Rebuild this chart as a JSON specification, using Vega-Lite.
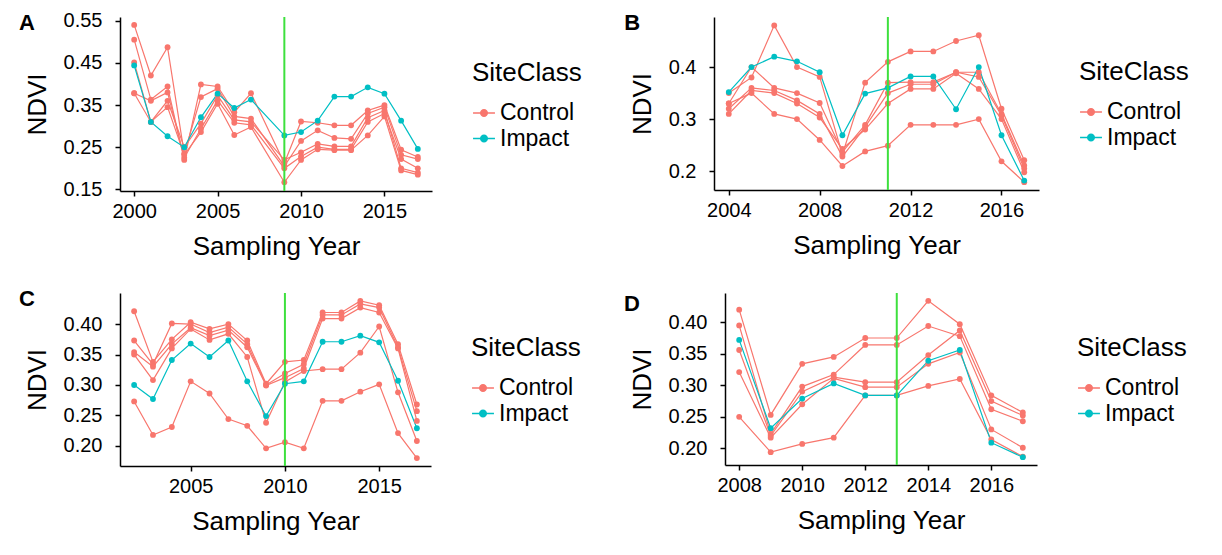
{
  "$schema": "https://vega.github.io/schema/vega-lite/v6.json",
  "background": "white",
  "padding": {"left": 19, "top": 10, "right": 5, "bottom": 5},
  "config": {
    "font": "Liberation Sans",
    "view": {"stroke": null},
    "axis": {"grid": false, "domainColor": "black", "tickColor": "black", "labelColor": "black", "titleColor": "black", "labelFontSize": 20, "titleFontSize": 26, "titleFontWeight": "normal", "labelFont": "Liberation Sans", "titleFont": "Liberation Sans", "tickSize": 5, "domainWidth": 1.5, "tickWidth": 1.5},
    "axisX": {"labelPadding": 5, "titlePadding": 12},
    "axisY": {"labelPadding": 13, "titlePadding": 13},
    "legend": {"titleFontSize": 26, "labelFontSize": 23, "titleFontWeight": "normal", "titleColor": "black", "labelColor": "black", "titleFont": "Liberation Sans", "labelFont": "Liberation Sans", "symbolType": "M-1,0H1M0.3,0A0.3,0.3 0 1,1 -0.3,0A0.3,0.3 0 1,1 0.3,0Z", "symbolSize": 480, "symbolStrokeWidth": 1.5, "titlePadding": 15, "rowPadding": 1.5},
    "title": {"fontSize": 22, "fontWeight": "bold", "anchor": "start", "frame": "bounds", "dx": -5, "baseline": "top", "color": "black", "font": "Liberation Sans"}
  },
  "datasets": {
    "A": [
      {"id":"A1","SiteClass":"Control","Year":2000,"NDVI":0.54},{"id":"A1","SiteClass":"Control","Year":2001,"NDVI":0.42},{"id":"A1","SiteClass":"Control","Year":2002,"NDVI":0.487},{"id":"A1","SiteClass":"Control","Year":2003,"NDVI":0.235},{"id":"A1","SiteClass":"Control","Year":2004,"NDVI":0.369},{"id":"A1","SiteClass":"Control","Year":2005,"NDVI":0.389},{"id":"A1","SiteClass":"Control","Year":2006,"NDVI":0.323},{"id":"A1","SiteClass":"Control","Year":2007,"NDVI":0.318},{"id":"A1","SiteClass":"Control","Year":2009,"NDVI":0.205},{"id":"A1","SiteClass":"Control","Year":2010,"NDVI":0.265},{"id":"A1","SiteClass":"Control","Year":2011,"NDVI":0.29},{"id":"A1","SiteClass":"Control","Year":2012,"NDVI":0.272},{"id":"A1","SiteClass":"Control","Year":2013,"NDVI":0.27},{"id":"A1","SiteClass":"Control","Year":2014,"NDVI":0.33},{"id":"A1","SiteClass":"Control","Year":2015,"NDVI":0.345},{"id":"A1","SiteClass":"Control","Year":2016,"NDVI":0.232},{"id":"A1","SiteClass":"Control","Year":2017,"NDVI":0.222},
      {"id":"A2","SiteClass":"Control","Year":2000,"NDVI":0.505},{"id":"A2","SiteClass":"Control","Year":2001,"NDVI":0.363},{"id":"A2","SiteClass":"Control","Year":2002,"NDVI":0.394},{"id":"A2","SiteClass":"Control","Year":2003,"NDVI":0.22},{"id":"A2","SiteClass":"Control","Year":2004,"NDVI":0.399},{"id":"A2","SiteClass":"Control","Year":2005,"NDVI":0.394},{"id":"A2","SiteClass":"Control","Year":2006,"NDVI":0.333},{"id":"A2","SiteClass":"Control","Year":2007,"NDVI":0.378},{"id":"A2","SiteClass":"Control","Year":2009,"NDVI":0.212},{"id":"A2","SiteClass":"Control","Year":2010,"NDVI":0.311},{"id":"A2","SiteClass":"Control","Year":2011,"NDVI":0.308},{"id":"A2","SiteClass":"Control","Year":2012,"NDVI":0.302},{"id":"A2","SiteClass":"Control","Year":2013,"NDVI":0.302},{"id":"A2","SiteClass":"Control","Year":2014,"NDVI":0.337},{"id":"A2","SiteClass":"Control","Year":2015,"NDVI":0.35},{"id":"A2","SiteClass":"Control","Year":2016,"NDVI":0.244},{"id":"A2","SiteClass":"Control","Year":2017,"NDVI":0.227},
      {"id":"A3","SiteClass":"Control","Year":2000,"NDVI":0.451},{"id":"A3","SiteClass":"Control","Year":2001,"NDVI":0.31},{"id":"A3","SiteClass":"Control","Year":2002,"NDVI":0.36},{"id":"A3","SiteClass":"Control","Year":2003,"NDVI":0.25},{"id":"A3","SiteClass":"Control","Year":2004,"NDVI":0.306},{"id":"A3","SiteClass":"Control","Year":2005,"NDVI":0.373},{"id":"A3","SiteClass":"Control","Year":2006,"NDVI":0.315},{"id":"A3","SiteClass":"Control","Year":2007,"NDVI":0.31},{"id":"A3","SiteClass":"Control","Year":2009,"NDVI":0.22},{"id":"A3","SiteClass":"Control","Year":2010,"NDVI":0.238},{"id":"A3","SiteClass":"Control","Year":2011,"NDVI":0.258},{"id":"A3","SiteClass":"Control","Year":2012,"NDVI":0.252},{"id":"A3","SiteClass":"Control","Year":2013,"NDVI":0.252},{"id":"A3","SiteClass":"Control","Year":2014,"NDVI":0.32},{"id":"A3","SiteClass":"Control","Year":2015,"NDVI":0.337},{"id":"A3","SiteClass":"Control","Year":2016,"NDVI":0.2},{"id":"A3","SiteClass":"Control","Year":2017,"NDVI":0.19},
      {"id":"A4","SiteClass":"Control","Year":2000,"NDVI":0.378},{"id":"A4","SiteClass":"Control","Year":2001,"NDVI":0.36},{"id":"A4","SiteClass":"Control","Year":2002,"NDVI":0.38},{"id":"A4","SiteClass":"Control","Year":2003,"NDVI":0.225},{"id":"A4","SiteClass":"Control","Year":2004,"NDVI":0.294},{"id":"A4","SiteClass":"Control","Year":2005,"NDVI":0.361},{"id":"A4","SiteClass":"Control","Year":2006,"NDVI":0.308},{"id":"A4","SiteClass":"Control","Year":2007,"NDVI":0.303},{"id":"A4","SiteClass":"Control","Year":2009,"NDVI":0.2},{"id":"A4","SiteClass":"Control","Year":2010,"NDVI":0.228},{"id":"A4","SiteClass":"Control","Year":2011,"NDVI":0.25},{"id":"A4","SiteClass":"Control","Year":2012,"NDVI":0.245},{"id":"A4","SiteClass":"Control","Year":2013,"NDVI":0.245},{"id":"A4","SiteClass":"Control","Year":2014,"NDVI":0.31},{"id":"A4","SiteClass":"Control","Year":2015,"NDVI":0.33},{"id":"A4","SiteClass":"Control","Year":2016,"NDVI":0.222},{"id":"A4","SiteClass":"Control","Year":2017,"NDVI":0.2},
      {"id":"A5","SiteClass":"Control","Year":2000,"NDVI":0.378},{"id":"A5","SiteClass":"Control","Year":2001,"NDVI":0.31},{"id":"A5","SiteClass":"Control","Year":2002,"NDVI":0.345},{"id":"A5","SiteClass":"Control","Year":2003,"NDVI":0.232},{"id":"A5","SiteClass":"Control","Year":2004,"NDVI":0.286},{"id":"A5","SiteClass":"Control","Year":2005,"NDVI":0.353},{"id":"A5","SiteClass":"Control","Year":2006,"NDVI":0.279},{"id":"A5","SiteClass":"Control","Year":2007,"NDVI":0.298},{"id":"A5","SiteClass":"Control","Year":2009,"NDVI":0.167},{"id":"A5","SiteClass":"Control","Year":2010,"NDVI":0.22},{"id":"A5","SiteClass":"Control","Year":2011,"NDVI":0.245},{"id":"A5","SiteClass":"Control","Year":2012,"NDVI":0.243},{"id":"A5","SiteClass":"Control","Year":2013,"NDVI":0.243},{"id":"A5","SiteClass":"Control","Year":2014,"NDVI":0.278},{"id":"A5","SiteClass":"Control","Year":2015,"NDVI":0.323},{"id":"A5","SiteClass":"Control","Year":2016,"NDVI":0.195},{"id":"A5","SiteClass":"Control","Year":2017,"NDVI":0.185},
      {"id":"AI","SiteClass":"Impact","Year":2000,"NDVI":0.444},{"id":"AI","SiteClass":"Impact","Year":2001,"NDVI":0.31},{"id":"AI","SiteClass":"Impact","Year":2002,"NDVI":0.276},{"id":"AI","SiteClass":"Impact","Year":2003,"NDVI":0.25},{"id":"AI","SiteClass":"Impact","Year":2004,"NDVI":0.321},{"id":"AI","SiteClass":"Impact","Year":2005,"NDVI":0.377},{"id":"AI","SiteClass":"Impact","Year":2006,"NDVI":0.343},{"id":"AI","SiteClass":"Impact","Year":2007,"NDVI":0.363},{"id":"AI","SiteClass":"Impact","Year":2009,"NDVI":0.278},{"id":"AI","SiteClass":"Impact","Year":2010,"NDVI":0.286},{"id":"AI","SiteClass":"Impact","Year":2011,"NDVI":0.313},{"id":"AI","SiteClass":"Impact","Year":2012,"NDVI":0.37},{"id":"AI","SiteClass":"Impact","Year":2013,"NDVI":0.37},{"id":"AI","SiteClass":"Impact","Year":2014,"NDVI":0.392},{"id":"AI","SiteClass":"Impact","Year":2015,"NDVI":0.377},{"id":"AI","SiteClass":"Impact","Year":2016,"NDVI":0.313},{"id":"AI","SiteClass":"Impact","Year":2017,"NDVI":0.246}
    ],
    "B": [
      {"id":"B1","SiteClass":"Control","Year":2004,"NDVI":0.35},{"id":"B1","SiteClass":"Control","Year":2005,"NDVI":0.38},{"id":"B1","SiteClass":"Control","Year":2006,"NDVI":0.48},{"id":"B1","SiteClass":"Control","Year":2007,"NDVI":0.4},{"id":"B1","SiteClass":"Control","Year":2008,"NDVI":0.381},{"id":"B1","SiteClass":"Control","Year":2009,"NDVI":0.232},{"id":"B1","SiteClass":"Control","Year":2010,"NDVI":0.37},{"id":"B1","SiteClass":"Control","Year":2011,"NDVI":0.41},{"id":"B1","SiteClass":"Control","Year":2012,"NDVI":0.43},{"id":"B1","SiteClass":"Control","Year":2013,"NDVI":0.43},{"id":"B1","SiteClass":"Control","Year":2014,"NDVI":0.45},{"id":"B1","SiteClass":"Control","Year":2015,"NDVI":0.461},{"id":"B1","SiteClass":"Control","Year":2016,"NDVI":0.32},{"id":"B1","SiteClass":"Control","Year":2017,"NDVI":0.221},
      {"id":"B2","SiteClass":"Control","Year":2004,"NDVI":0.33},{"id":"B2","SiteClass":"Control","Year":2005,"NDVI":0.4},{"id":"B2","SiteClass":"Control","Year":2006,"NDVI":0.36},{"id":"B2","SiteClass":"Control","Year":2007,"NDVI":0.35},{"id":"B2","SiteClass":"Control","Year":2008,"NDVI":0.331},{"id":"B2","SiteClass":"Control","Year":2009,"NDVI":0.237},{"id":"B2","SiteClass":"Control","Year":2010,"NDVI":0.289},{"id":"B2","SiteClass":"Control","Year":2011,"NDVI":0.37},{"id":"B2","SiteClass":"Control","Year":2012,"NDVI":0.371},{"id":"B2","SiteClass":"Control","Year":2013,"NDVI":0.371},{"id":"B2","SiteClass":"Control","Year":2014,"NDVI":0.39},{"id":"B2","SiteClass":"Control","Year":2015,"NDVI":0.39},{"id":"B2","SiteClass":"Control","Year":2016,"NDVI":0.31},{"id":"B2","SiteClass":"Control","Year":2017,"NDVI":0.211},
      {"id":"B3","SiteClass":"Control","Year":2004,"NDVI":0.32},{"id":"B3","SiteClass":"Control","Year":2005,"NDVI":0.36},{"id":"B3","SiteClass":"Control","Year":2006,"NDVI":0.355},{"id":"B3","SiteClass":"Control","Year":2007,"NDVI":0.336},{"id":"B3","SiteClass":"Control","Year":2008,"NDVI":0.31},{"id":"B3","SiteClass":"Control","Year":2009,"NDVI":0.228},{"id":"B3","SiteClass":"Control","Year":2010,"NDVI":0.285},{"id":"B3","SiteClass":"Control","Year":2011,"NDVI":0.35},{"id":"B3","SiteClass":"Control","Year":2012,"NDVI":0.367},{"id":"B3","SiteClass":"Control","Year":2013,"NDVI":0.367},{"id":"B3","SiteClass":"Control","Year":2014,"NDVI":0.39},{"id":"B3","SiteClass":"Control","Year":2015,"NDVI":0.381},{"id":"B3","SiteClass":"Control","Year":2016,"NDVI":0.307},{"id":"B3","SiteClass":"Control","Year":2017,"NDVI":0.205},
      {"id":"B4","SiteClass":"Control","Year":2004,"NDVI":0.31},{"id":"B4","SiteClass":"Control","Year":2005,"NDVI":0.355},{"id":"B4","SiteClass":"Control","Year":2006,"NDVI":0.35},{"id":"B4","SiteClass":"Control","Year":2007,"NDVI":0.33},{"id":"B4","SiteClass":"Control","Year":2008,"NDVI":0.303},{"id":"B4","SiteClass":"Control","Year":2009,"NDVI":0.243},{"id":"B4","SiteClass":"Control","Year":2010,"NDVI":0.28},{"id":"B4","SiteClass":"Control","Year":2011,"NDVI":0.33},{"id":"B4","SiteClass":"Control","Year":2012,"NDVI":0.358},{"id":"B4","SiteClass":"Control","Year":2013,"NDVI":0.358},{"id":"B4","SiteClass":"Control","Year":2014,"NDVI":0.388},{"id":"B4","SiteClass":"Control","Year":2015,"NDVI":0.358},{"id":"B4","SiteClass":"Control","Year":2016,"NDVI":0.3},{"id":"B4","SiteClass":"Control","Year":2017,"NDVI":0.198},
      {"id":"B5","SiteClass":"Control","Year":2004,"NDVI":0.33},{"id":"B5","SiteClass":"Control","Year":2005,"NDVI":0.35},{"id":"B5","SiteClass":"Control","Year":2006,"NDVI":0.31},{"id":"B5","SiteClass":"Control","Year":2007,"NDVI":0.3},{"id":"B5","SiteClass":"Control","Year":2008,"NDVI":0.26},{"id":"B5","SiteClass":"Control","Year":2009,"NDVI":0.21},{"id":"B5","SiteClass":"Control","Year":2010,"NDVI":0.238},{"id":"B5","SiteClass":"Control","Year":2011,"NDVI":0.249},{"id":"B5","SiteClass":"Control","Year":2012,"NDVI":0.289},{"id":"B5","SiteClass":"Control","Year":2013,"NDVI":0.289},{"id":"B5","SiteClass":"Control","Year":2014,"NDVI":0.289},{"id":"B5","SiteClass":"Control","Year":2015,"NDVI":0.3},{"id":"B5","SiteClass":"Control","Year":2016,"NDVI":0.219},{"id":"B5","SiteClass":"Control","Year":2017,"NDVI":0.179},
      {"id":"BI","SiteClass":"Impact","Year":2004,"NDVI":0.352},{"id":"BI","SiteClass":"Impact","Year":2005,"NDVI":0.4},{"id":"BI","SiteClass":"Impact","Year":2006,"NDVI":0.42},{"id":"BI","SiteClass":"Impact","Year":2007,"NDVI":0.411},{"id":"BI","SiteClass":"Impact","Year":2008,"NDVI":0.39},{"id":"BI","SiteClass":"Impact","Year":2009,"NDVI":0.269},{"id":"BI","SiteClass":"Impact","Year":2010,"NDVI":0.349},{"id":"BI","SiteClass":"Impact","Year":2011,"NDVI":0.36},{"id":"BI","SiteClass":"Impact","Year":2012,"NDVI":0.382},{"id":"BI","SiteClass":"Impact","Year":2013,"NDVI":0.382},{"id":"BI","SiteClass":"Impact","Year":2014,"NDVI":0.319},{"id":"BI","SiteClass":"Impact","Year":2015,"NDVI":0.4},{"id":"BI","SiteClass":"Impact","Year":2016,"NDVI":0.269},{"id":"BI","SiteClass":"Impact","Year":2017,"NDVI":0.182}
    ],
    "C": [
      {"id":"C1","SiteClass":"Control","Year":2002,"NDVI":0.421},{"id":"C1","SiteClass":"Control","Year":2003,"NDVI":0.338},{"id":"C1","SiteClass":"Control","Year":2004,"NDVI":0.375},{"id":"C1","SiteClass":"Control","Year":2005,"NDVI":0.403},{"id":"C1","SiteClass":"Control","Year":2006,"NDVI":0.392},{"id":"C1","SiteClass":"Control","Year":2007,"NDVI":0.4},{"id":"C1","SiteClass":"Control","Year":2008,"NDVI":0.373},{"id":"C1","SiteClass":"Control","Year":2009,"NDVI":0.302},{"id":"C1","SiteClass":"Control","Year":2010,"NDVI":0.338},{"id":"C1","SiteClass":"Control","Year":2011,"NDVI":0.341},{"id":"C1","SiteClass":"Control","Year":2012,"NDVI":0.419},{"id":"C1","SiteClass":"Control","Year":2013,"NDVI":0.419},{"id":"C1","SiteClass":"Control","Year":2014,"NDVI":0.438},{"id":"C1","SiteClass":"Control","Year":2015,"NDVI":0.431},{"id":"C1","SiteClass":"Control","Year":2016,"NDVI":0.367},{"id":"C1","SiteClass":"Control","Year":2017,"NDVI":0.268},
      {"id":"C2","SiteClass":"Control","Year":2002,"NDVI":0.373},{"id":"C2","SiteClass":"Control","Year":2003,"NDVI":0.334},{"id":"C2","SiteClass":"Control","Year":2004,"NDVI":0.401},{"id":"C2","SiteClass":"Control","Year":2005,"NDVI":0.4},{"id":"C2","SiteClass":"Control","Year":2006,"NDVI":0.386},{"id":"C2","SiteClass":"Control","Year":2007,"NDVI":0.395},{"id":"C2","SiteClass":"Control","Year":2008,"NDVI":0.367},{"id":"C2","SiteClass":"Control","Year":2009,"NDVI":0.3},{"id":"C2","SiteClass":"Control","Year":2010,"NDVI":0.319},{"id":"C2","SiteClass":"Control","Year":2011,"NDVI":0.334},{"id":"C2","SiteClass":"Control","Year":2012,"NDVI":0.415},{"id":"C2","SiteClass":"Control","Year":2013,"NDVI":0.415},{"id":"C2","SiteClass":"Control","Year":2014,"NDVI":0.433},{"id":"C2","SiteClass":"Control","Year":2015,"NDVI":0.427},{"id":"C2","SiteClass":"Control","Year":2016,"NDVI":0.362},{"id":"C2","SiteClass":"Control","Year":2017,"NDVI":0.257},
      {"id":"C3","SiteClass":"Control","Year":2002,"NDVI":0.354},{"id":"C3","SiteClass":"Control","Year":2003,"NDVI":0.33},{"id":"C3","SiteClass":"Control","Year":2004,"NDVI":0.367},{"id":"C3","SiteClass":"Control","Year":2005,"NDVI":0.394},{"id":"C3","SiteClass":"Control","Year":2006,"NDVI":0.381},{"id":"C3","SiteClass":"Control","Year":2007,"NDVI":0.39},{"id":"C3","SiteClass":"Control","Year":2008,"NDVI":0.362},{"id":"C3","SiteClass":"Control","Year":2009,"NDVI":0.299},{"id":"C3","SiteClass":"Control","Year":2010,"NDVI":0.312},{"id":"C3","SiteClass":"Control","Year":2011,"NDVI":0.327},{"id":"C3","SiteClass":"Control","Year":2012,"NDVI":0.409},{"id":"C3","SiteClass":"Control","Year":2013,"NDVI":0.409},{"id":"C3","SiteClass":"Control","Year":2014,"NDVI":0.427},{"id":"C3","SiteClass":"Control","Year":2015,"NDVI":0.419},{"id":"C3","SiteClass":"Control","Year":2016,"NDVI":0.36},{"id":"C3","SiteClass":"Control","Year":2017,"NDVI":0.241},
      {"id":"C4","SiteClass":"Control","Year":2002,"NDVI":0.35},{"id":"C4","SiteClass":"Control","Year":2003,"NDVI":0.308},{"id":"C4","SiteClass":"Control","Year":2004,"NDVI":0.36},{"id":"C4","SiteClass":"Control","Year":2005,"NDVI":0.392},{"id":"C4","SiteClass":"Control","Year":2006,"NDVI":0.374},{"id":"C4","SiteClass":"Control","Year":2007,"NDVI":0.384},{"id":"C4","SiteClass":"Control","Year":2008,"NDVI":0.346},{"id":"C4","SiteClass":"Control","Year":2009,"NDVI":0.238},{"id":"C4","SiteClass":"Control","Year":2010,"NDVI":0.305},{"id":"C4","SiteClass":"Control","Year":2011,"NDVI":0.323},{"id":"C4","SiteClass":"Control","Year":2012,"NDVI":0.326},{"id":"C4","SiteClass":"Control","Year":2013,"NDVI":0.326},{"id":"C4","SiteClass":"Control","Year":2014,"NDVI":0.353},{"id":"C4","SiteClass":"Control","Year":2015,"NDVI":0.396},{"id":"C4","SiteClass":"Control","Year":2016,"NDVI":0.288},{"id":"C4","SiteClass":"Control","Year":2017,"NDVI":0.208},
      {"id":"C5","SiteClass":"Control","Year":2002,"NDVI":0.273},{"id":"C5","SiteClass":"Control","Year":2003,"NDVI":0.218},{"id":"C5","SiteClass":"Control","Year":2004,"NDVI":0.231},{"id":"C5","SiteClass":"Control","Year":2005,"NDVI":0.306},{"id":"C5","SiteClass":"Control","Year":2006,"NDVI":0.286},{"id":"C5","SiteClass":"Control","Year":2007,"NDVI":0.244},{"id":"C5","SiteClass":"Control","Year":2008,"NDVI":0.233},{"id":"C5","SiteClass":"Control","Year":2009,"NDVI":0.196},{"id":"C5","SiteClass":"Control","Year":2010,"NDVI":0.206},{"id":"C5","SiteClass":"Control","Year":2011,"NDVI":0.196},{"id":"C5","SiteClass":"Control","Year":2012,"NDVI":0.274},{"id":"C5","SiteClass":"Control","Year":2013,"NDVI":0.274},{"id":"C5","SiteClass":"Control","Year":2014,"NDVI":0.289},{"id":"C5","SiteClass":"Control","Year":2015,"NDVI":0.301},{"id":"C5","SiteClass":"Control","Year":2016,"NDVI":0.221},{"id":"C5","SiteClass":"Control","Year":2017,"NDVI":0.18},
      {"id":"CI","SiteClass":"Impact","Year":2002,"NDVI":0.3},{"id":"CI","SiteClass":"Impact","Year":2003,"NDVI":0.277},{"id":"CI","SiteClass":"Impact","Year":2004,"NDVI":0.341},{"id":"CI","SiteClass":"Impact","Year":2005,"NDVI":0.368},{"id":"CI","SiteClass":"Impact","Year":2006,"NDVI":0.346},{"id":"CI","SiteClass":"Impact","Year":2007,"NDVI":0.373},{"id":"CI","SiteClass":"Impact","Year":2008,"NDVI":0.306},{"id":"CI","SiteClass":"Impact","Year":2009,"NDVI":0.249},{"id":"CI","SiteClass":"Impact","Year":2010,"NDVI":0.302},{"id":"CI","SiteClass":"Impact","Year":2011,"NDVI":0.306},{"id":"CI","SiteClass":"Impact","Year":2012,"NDVI":0.371},{"id":"CI","SiteClass":"Impact","Year":2013,"NDVI":0.371},{"id":"CI","SiteClass":"Impact","Year":2014,"NDVI":0.381},{"id":"CI","SiteClass":"Impact","Year":2015,"NDVI":0.37},{"id":"CI","SiteClass":"Impact","Year":2016,"NDVI":0.307},{"id":"CI","SiteClass":"Impact","Year":2017,"NDVI":0.229}
    ],
    "D": [
      {"id":"D1","SiteClass":"Control","Year":2008,"NDVI":0.42},{"id":"D1","SiteClass":"Control","Year":2009,"NDVI":0.253},{"id":"D1","SiteClass":"Control","Year":2010,"NDVI":0.334},{"id":"D1","SiteClass":"Control","Year":2011,"NDVI":0.345},{"id":"D1","SiteClass":"Control","Year":2012,"NDVI":0.375},{"id":"D1","SiteClass":"Control","Year":2013,"NDVI":0.375},{"id":"D1","SiteClass":"Control","Year":2014,"NDVI":0.434},{"id":"D1","SiteClass":"Control","Year":2015,"NDVI":0.397},{"id":"D1","SiteClass":"Control","Year":2016,"NDVI":0.284},{"id":"D1","SiteClass":"Control","Year":2017,"NDVI":0.257},
      {"id":"D2","SiteClass":"Control","Year":2008,"NDVI":0.395},{"id":"D2","SiteClass":"Control","Year":2009,"NDVI":0.223},{"id":"D2","SiteClass":"Control","Year":2010,"NDVI":0.298},{"id":"D2","SiteClass":"Control","Year":2011,"NDVI":0.317},{"id":"D2","SiteClass":"Control","Year":2012,"NDVI":0.364},{"id":"D2","SiteClass":"Control","Year":2013,"NDVI":0.364},{"id":"D2","SiteClass":"Control","Year":2014,"NDVI":0.394},{"id":"D2","SiteClass":"Control","Year":2015,"NDVI":0.378},{"id":"D2","SiteClass":"Control","Year":2016,"NDVI":0.262},{"id":"D2","SiteClass":"Control","Year":2017,"NDVI":0.243},
      {"id":"D3","SiteClass":"Control","Year":2008,"NDVI":0.356},{"id":"D3","SiteClass":"Control","Year":2009,"NDVI":0.22},{"id":"D3","SiteClass":"Control","Year":2010,"NDVI":0.29},{"id":"D3","SiteClass":"Control","Year":2011,"NDVI":0.313},{"id":"D3","SiteClass":"Control","Year":2012,"NDVI":0.305},{"id":"D3","SiteClass":"Control","Year":2013,"NDVI":0.305},{"id":"D3","SiteClass":"Control","Year":2014,"NDVI":0.348},{"id":"D3","SiteClass":"Control","Year":2015,"NDVI":0.387},{"id":"D3","SiteClass":"Control","Year":2016,"NDVI":0.275},{"id":"D3","SiteClass":"Control","Year":2017,"NDVI":0.252},
      {"id":"D4","SiteClass":"Control","Year":2008,"NDVI":0.321},{"id":"D4","SiteClass":"Control","Year":2009,"NDVI":0.217},{"id":"D4","SiteClass":"Control","Year":2010,"NDVI":0.27},{"id":"D4","SiteClass":"Control","Year":2011,"NDVI":0.311},{"id":"D4","SiteClass":"Control","Year":2012,"NDVI":0.297},{"id":"D4","SiteClass":"Control","Year":2013,"NDVI":0.297},{"id":"D4","SiteClass":"Control","Year":2014,"NDVI":0.334},{"id":"D4","SiteClass":"Control","Year":2015,"NDVI":0.352},{"id":"D4","SiteClass":"Control","Year":2016,"NDVI":0.23},{"id":"D4","SiteClass":"Control","Year":2017,"NDVI":0.201},
      {"id":"D5","SiteClass":"Control","Year":2008,"NDVI":0.25},{"id":"D5","SiteClass":"Control","Year":2009,"NDVI":0.194},{"id":"D5","SiteClass":"Control","Year":2010,"NDVI":0.207},{"id":"D5","SiteClass":"Control","Year":2011,"NDVI":0.217},{"id":"D5","SiteClass":"Control","Year":2012,"NDVI":0.284},{"id":"D5","SiteClass":"Control","Year":2013,"NDVI":0.284},{"id":"D5","SiteClass":"Control","Year":2014,"NDVI":0.299},{"id":"D5","SiteClass":"Control","Year":2015,"NDVI":0.31},{"id":"D5","SiteClass":"Control","Year":2016,"NDVI":0.214},{"id":"D5","SiteClass":"Control","Year":2017,"NDVI":0.187},
      {"id":"DI","SiteClass":"Impact","Year":2008,"NDVI":0.372},{"id":"DI","SiteClass":"Impact","Year":2009,"NDVI":0.232},{"id":"DI","SiteClass":"Impact","Year":2010,"NDVI":0.279},{"id":"DI","SiteClass":"Impact","Year":2011,"NDVI":0.303},{"id":"DI","SiteClass":"Impact","Year":2012,"NDVI":0.284},{"id":"DI","SiteClass":"Impact","Year":2013,"NDVI":0.284},{"id":"DI","SiteClass":"Impact","Year":2014,"NDVI":0.339},{"id":"DI","SiteClass":"Impact","Year":2015,"NDVI":0.356},{"id":"DI","SiteClass":"Impact","Year":2016,"NDVI":0.209},{"id":"DI","SiteClass":"Impact","Year":2017,"NDVI":0.186}
    ],
    "vA": [{"Year": 2009}],
    "vB": [{"Year": 2011}],
    "vC": [{"Year": 2010}],
    "vD": [{"Year": 2013}]
  },
  "spacing": 29,
  "resolve": {"scale": {"color": "independent", "x": "independent", "y": "independent"}, "legend": {"color": "independent"}},
  "vconcat": [
    {
      "spacing": 42,
      "resolve": {"scale": {"color": "independent", "x": "independent", "y": "independent"}, "legend": {"color": "independent"}},
      "hconcat": [
        {
          "width": 312, "height": 174,
          "title": {"text": "A", "offset": -24},
          "layer": [
            {"data": {"name": "A"}, "mark": {"type": "line", "strokeWidth": 1.2},
             "encoding": {
               "x": {"field": "Year", "type": "quantitative", "scale": {"domain": [1999.15, 2017.85], "nice": false, "zero": false}, "axis": {"values": [2000, 2005, 2010, 2015], "format": "d", "title": "Sampling Year"}},
               "y": {"field": "NDVI", "type": "quantitative", "scale": {"domain": [0.14625, 0.55875], "nice": false, "zero": false}, "axis": {"values": [0.15, 0.25, 0.35, 0.45, 0.55], "format": ".2f", "title": "NDVI"}},
               "color": {"field": "SiteClass", "type": "nominal", "scale": {"domain": ["Control", "Impact"], "range": ["#F8766D", "#00BFC4"]}, "legend": {"orient": "none", "legendX": 352, "legendY": 43}},
               "detail": {"field": "id"}}},
            {"data": {"name": "A"}, "mark": {"type": "point", "filled": true, "size": 34, "opacity": 1},
             "encoding": {
               "x": {"field": "Year", "type": "quantitative"},
               "y": {"field": "NDVI", "type": "quantitative"},
               "color": {"field": "SiteClass", "type": "nominal"}}},
            {"data": {"name": "vA"}, "mark": {"type": "rule", "color": "#3ee03e", "strokeWidth": 2},
             "encoding": {"x": {"field": "Year", "type": "quantitative"}}}
          ]
        },
        {
          "width": 325, "height": 173,
          "title": {"text": "B", "offset": -19},
          "layer": [
            {"data": {"name": "B"}, "mark": {"type": "line", "strokeWidth": 1.2},
             "encoding": {
               "x": {"field": "Year", "type": "quantitative", "scale": {"domain": [2003.35, 2017.65], "nice": false, "zero": false}, "axis": {"values": [2004, 2008, 2012, 2016], "format": "d", "title": "Sampling Year"}},
               "y": {"field": "NDVI", "type": "quantitative", "scale": {"domain": [0.1639, 0.4961], "nice": false, "zero": false}, "axis": {"values": [0.2, 0.3, 0.4], "format": ".1f", "title": "NDVI"}},
               "color": {"field": "SiteClass", "type": "nominal", "scale": {"domain": ["Control", "Impact"], "range": ["#F8766D", "#00BFC4"]}, "legend": {"orient": "none", "legendX": 365, "legendY": 42}},
               "detail": {"field": "id"}}},
            {"data": {"name": "B"}, "mark": {"type": "point", "filled": true, "size": 34, "opacity": 1},
             "encoding": {
               "x": {"field": "Year", "type": "quantitative"},
               "y": {"field": "NDVI", "type": "quantitative"},
               "color": {"field": "SiteClass", "type": "nominal"}}},
            {"data": {"name": "vB"}, "mark": {"type": "rule", "color": "#3ee03e", "strokeWidth": 2},
             "encoding": {"x": {"field": "Year", "type": "quantitative"}}}
          ]
        }
      ]
    },
    {
      "spacing": 43,
      "resolve": {"scale": {"color": "independent", "x": "independent", "y": "independent"}, "legend": {"color": "independent"}},
      "hconcat": [
        {
          "width": 311, "height": 173,
          "title": {"text": "C", "offset": -19},
          "layer": [
            {"data": {"name": "C"}, "mark": {"type": "line", "strokeWidth": 1.2},
             "encoding": {
               "x": {"field": "Year", "type": "quantitative", "scale": {"domain": [2001.25, 2017.75], "nice": false, "zero": false}, "axis": {"values": [2005, 2010, 2015], "format": "d", "title": "Sampling Year"}},
               "y": {"field": "NDVI", "type": "quantitative", "scale": {"domain": [0.167, 0.451], "nice": false, "zero": false}, "axis": {"values": [0.2, 0.25, 0.3, 0.35, 0.4], "format": ".2f", "title": "NDVI"}},
               "color": {"field": "SiteClass", "type": "nominal", "scale": {"domain": ["Control", "Impact"], "range": ["#F8766D", "#00BFC4"]}, "legend": {"orient": "none", "legendX": 351, "legendY": 42}},
               "detail": {"field": "id"}}},
            {"data": {"name": "C"}, "mark": {"type": "point", "filled": true, "size": 34, "opacity": 1},
             "encoding": {
               "x": {"field": "Year", "type": "quantitative"},
               "y": {"field": "NDVI", "type": "quantitative"},
               "color": {"field": "SiteClass", "type": "nominal"}}},
            {"data": {"name": "vC"}, "mark": {"type": "rule", "color": "#3ee03e", "strokeWidth": 2},
             "encoding": {"x": {"field": "Year", "type": "quantitative"}}}
          ]
        },
        {
          "width": 312, "height": 172,
          "title": {"text": "D", "offset": -24},
          "layer": [
            {"data": {"name": "D"}, "mark": {"type": "line", "strokeWidth": 1.2},
             "encoding": {
               "x": {"field": "Year", "type": "quantitative", "scale": {"domain": [2007.55, 2017.45], "nice": false, "zero": false}, "axis": {"values": [2008, 2010, 2012, 2014, 2016], "format": "d", "title": "Sampling Year"}},
               "y": {"field": "NDVI", "type": "quantitative", "scale": {"domain": [0.1736, 0.4464], "nice": false, "zero": false}, "axis": {"values": [0.2, 0.25, 0.3, 0.35, 0.4], "format": ".2f", "title": "NDVI"}},
               "color": {"field": "SiteClass", "type": "nominal", "scale": {"domain": ["Control", "Impact"], "range": ["#F8766D", "#00BFC4"]}, "legend": {"orient": "none", "legendX": 352, "legendY": 42}},
               "detail": {"field": "id"}}},
            {"data": {"name": "D"}, "mark": {"type": "point", "filled": true, "size": 34, "opacity": 1},
             "encoding": {
               "x": {"field": "Year", "type": "quantitative"},
               "y": {"field": "NDVI", "type": "quantitative"},
               "color": {"field": "SiteClass", "type": "nominal"}}},
            {"data": {"name": "vD"}, "mark": {"type": "rule", "color": "#3ee03e", "strokeWidth": 2},
             "encoding": {"x": {"field": "Year", "type": "quantitative"}}}
          ]
        }
      ]
    }
  ]
}
